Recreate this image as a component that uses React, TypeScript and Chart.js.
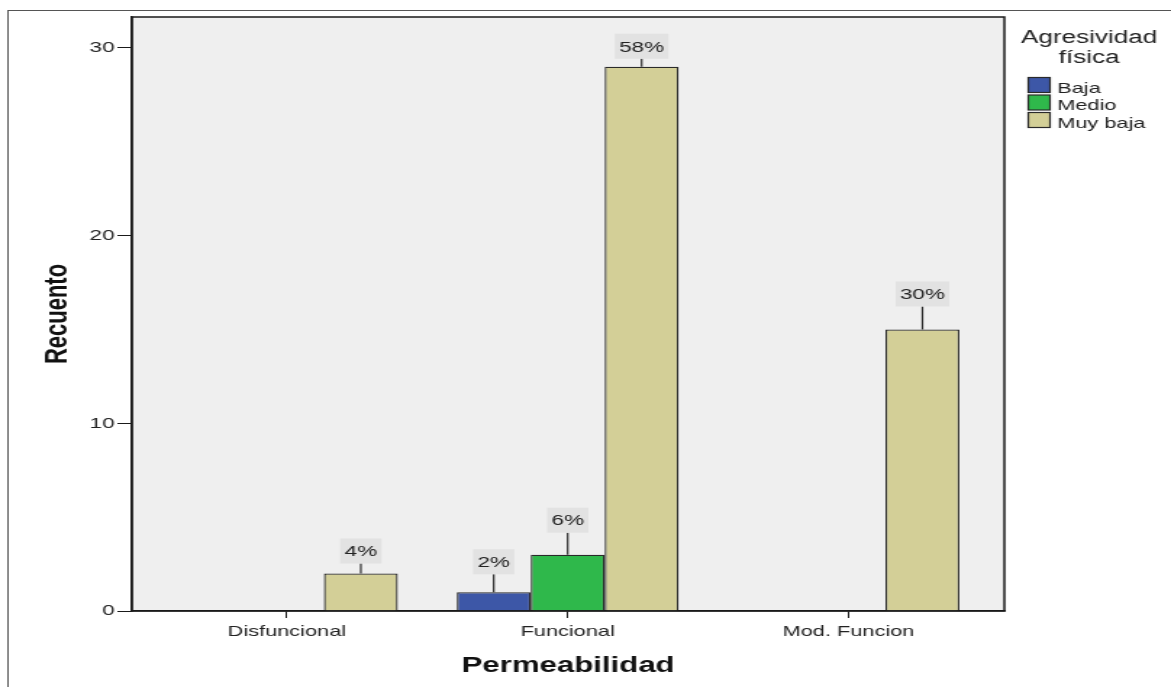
import React, { useEffect, useRef } from "react";
import { Chart, registerables } from "chart.js";

Chart.register(...registerables);

// ---- data ----
const categories = ["Disfuncional", "Funcional", "Mod. Funcion"];
const seriesNames = ["Baja", "Medio", "Muy baja"];
const baja: (number | null)[] = [null, 1, null];
const medio: (number | null)[] = [null, 3, null];
const muyBaja: (number | null)[] = [2, 29, 15];
const pctBaja: (string | null)[] = [null, "2%", null];
const pctMedio: (string | null)[] = [null, "6%", null];
const pctMuyBaja: (string | null)[] = ["4%", "58%", "30%"];
const yTicks = [0, 10, 20, 30];
const yMax = 31.65;
const xTitle = "Permeabilidad";
const yTitle = "Recuento";
const legendTitle = ["Agresividad", "física"];

// ---- styles ----
const W = 808;
const H = 687;
const FONT = "'Liberation Sans', Arial, sans-serif";
const COLORS = ["#3d57a7", "#2fb84b", "#d3cf97"];
const LABEL_GAP = [
  [0, 18, 0],
  [0, 22, 0],
  [10, 8, 23],
];

const pctSeries = [pctBaja, pctMedio, pctMuyBaja];

const decorPlugin = {
  id: "decor",
  beforeDraw(chart: any) {
    const { ctx, chartArea: a } = chart;
    ctx.save();
    ctx.fillStyle = "#ffffff";
    ctx.fillRect(0, 0, W, H);
    ctx.strokeStyle = "#555555";
    ctx.lineWidth = 1;
    ctx.strokeRect(5.5, 10.5, W + 10, H + 10);
    ctx.fillStyle = "#efefef";
    ctx.fillRect(a.left, a.top, a.right - a.left, a.bottom - a.top);
    ctx.restore();
  },
  afterDraw(chart: any) {
    const { ctx, chartArea: a } = chart;
    ctx.save();
    // plot frame
    ctx.strokeStyle = "#1a1a1a";
    ctx.lineWidth = 1.5;
    ctx.strokeRect(a.left, a.top, a.right - a.left, a.bottom - a.top);

    // value labels
    ctx.font = `15.5px ${FONT}`;
    ctx.textAlign = "center";
    ctx.textBaseline = "middle";
    chart.data.datasets.forEach((ds: any, di: number) => {
      const meta = chart.getDatasetMeta(di);
      meta.data.forEach((el: any, i: number) => {
        const txt = pctSeries[di][i];
        if (!txt || ds.data[i].y == null) return;
        const x = el.x;
        const top = el.y;
        const gap = LABEL_GAP[di][i];
        const bh = 25;
        const tw = ctx.measureText(txt).width;
        const bw = tw + 6;
        const by = top - gap - bh;
        ctx.strokeStyle = "#2a2a2a";
        ctx.lineWidth = 1.2;
        ctx.beginPath();
        ctx.moveTo(x, top);
        ctx.lineTo(x, top - gap);
        ctx.stroke();
        ctx.fillStyle = "#e2e2e2";
        ctx.fillRect(x - bw / 2, by, bw, bh);
        ctx.fillStyle = "#222222";
        ctx.fillText(txt, x, by + bh / 2 + 1);
      });
    });

    // axis titles
    ctx.fillStyle = "#111111";
    ctx.font = `bold 21.5px ${FONT}`;
    ctx.textAlign = "center";
    ctx.textBaseline = "alphabetic";
    ctx.fillText(xTitle, (a.left + a.right) / 2, 672);
    ctx.save();
    ctx.translate(45.5, (a.top + a.bottom) / 2);
    ctx.rotate(-Math.PI / 2);
    ctx.font = `bold 22px ${FONT}`;
    ctx.fillText(yTitle, 0, 0);
    ctx.restore();

    // legend
    ctx.fillStyle = "#222222";
    ctx.font = `18px ${FONT}`;
    ctx.textAlign = "center";
    ctx.fillText(legendTitle[0], 751.5, 43);
    ctx.fillText(legendTitle[1], 751.5, 63);
    ctx.font = `15px ${FONT}`;
    ctx.textAlign = "left";
    seriesNames.forEach((name, k) => {
      const y0 = 77.5 + k * 17.5;
      ctx.fillStyle = COLORS[k];
      ctx.fillRect(709.5, y0, 15, 15);
      ctx.strokeStyle = "#2a2a2a";
      ctx.lineWidth = 1.2;
      ctx.strokeRect(709.5, y0, 15, 15);
      ctx.fillStyle = "#222222";
      ctx.fillText(name, 729.5, y0 + 15);
    });
    ctx.restore();
  },
};

export default function App() {
  const ref = useRef<HTMLCanvasElement | null>(null);

  useEffect(() => {
    if (!ref.current) return;
    const series = [baja, medio, muyBaja];
    const chart = new Chart(ref.current, {
      type: "bar",
      data: {
        datasets: series.map((vals, k) => ({
          label: seriesNames[k],
          data: vals.map((v, i) => ({ x: i, y: v })) as any,
          backgroundColor: COLORS[k],
          borderColor: "#2a2a2a",
          borderWidth: 1.3,
          categoryPercentage: 0.79,
          barPercentage: 1,
        })),
      },
      options: {
        responsive: false,
        animation: false,
        devicePixelRatio: 1,
        layout: { padding: { left: 0, right: 115, top: 17, bottom: 0 } },
        plugins: {
          legend: { display: false },
          title: { display: false },
          tooltip: { enabled: false },
        },
        scales: {
          x: {
            type: "linear",
            min: -0.552,
            max: 2.555,
            offset: false,
            afterBuildTicks: (s: any) => {
              s.ticks = categories.map((_, i) => ({ value: i }));
            },
            afterFit: (s: any) => {
              s.height = 76;
            },
            grid: {
              offset: false,
              drawOnChartArea: false,
              drawTicks: true,
              tickLength: 7,
              color: "#1a1a1a",
              lineWidth: 1,
            },
            border: { display: true, color: "#1a1a1a", width: 1.5 },
            ticks: {
              autoSkip: false,
              maxRotation: 0,
              padding: 5,
              color: "#222222",
              font: { family: FONT, size: 15 },
              callback: (v: any) => categories[Math.round(Number(v))] ?? "",
            },
          },
          y: {
            type: "linear",
            min: 0,
            max: yMax,
            afterBuildTicks: (s: any) => {
              s.ticks = yTicks.map((v) => ({ value: v }));
            },
            afterFit: (s: any) => {
              s.width = 91;
            },
            grid: {
              drawOnChartArea: false,
              drawTicks: true,
              tickLength: 10,
              color: "#1a1a1a",
              lineWidth: 1,
            },
            border: { display: true, color: "#1a1a1a", width: 1.5 },
            ticks: {
              padding: 2,
              color: "#222222",
              font: { family: FONT, size: 15.5 },
            },
          },
        },
      },
      plugins: [decorPlugin],
    });
    return () => chart.destroy();
  }, []);

  return (
    <div style={{ position: "fixed", left: 0, top: 0, width: 1171, height: 687, background: "#fff" }}>
      <canvas
        ref={ref}
        width={W}
        height={H}
        style={{ width: "1171px", height: "687px", display: "block" }}
      />
    </div>
  );
}
